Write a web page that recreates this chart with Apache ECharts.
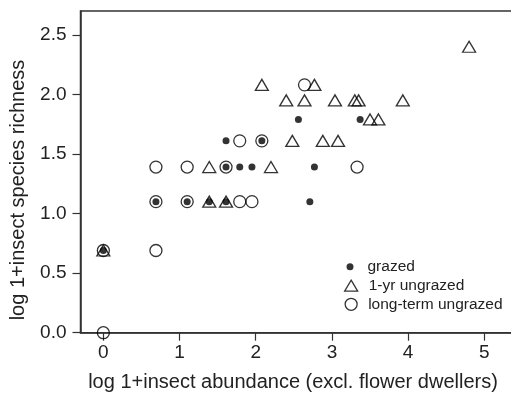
<!DOCTYPE html>
<html>
<head>
<meta charset="utf-8">
<script src="https://cdn.jsdelivr.net/npm/echarts@6/dist/echarts.min.js"></script>
<style>
  html, body { margin: 0; padding: 0; background: #fff; }
  #chart { width: 511px; height: 393px; }
</style>
</head>
<body>
<div id="chart"></div>
<script>
// Observations: [log 1+abundance, log 1+species richness]
const grazed = [
  [0.00, 0.69],
  [0.69, 1.10], [1.10, 1.10], [1.39, 1.10], [1.61, 1.10], [2.71, 1.10],
  [1.61, 1.39], [1.79, 1.39], [1.95, 1.39], [2.77, 1.39],
  [1.61, 1.61], [2.08, 1.61],
  [2.56, 1.79], [3.37, 1.79]
];
const oneYearUngrazed = [
  [0.00, 0.69],
  [1.39, 1.10], [1.61, 1.10],
  [1.39, 1.39], [2.20, 1.39],
  [2.48, 1.61], [2.88, 1.61], [3.08, 1.61],
  [3.50, 1.79], [3.61, 1.79],
  [2.40, 1.95], [2.64, 1.95], [3.04, 1.95], [3.30, 1.95], [3.35, 1.95], [3.93, 1.95],
  [2.08, 2.08], [2.77, 2.08],
  [4.80, 2.40]
];
const longTermUngrazed = [
  [0.00, 0.00], [0.00, 0.69], [0.69, 0.69],
  [0.69, 1.10], [1.10, 1.10], [1.79, 1.10], [1.95, 1.10],
  [0.69, 1.39], [1.10, 1.39], [1.61, 1.39], [3.33, 1.39],
  [1.79, 1.61], [2.08, 1.61],
  [2.64, 2.08]
];
const xTicks = [0, 1, 2, 3, 4, 5];
const yTicks = [0, 0.5, 1.0, 1.5, 2.0, 2.5];
const seriesNames = ['grazed', '1-yr ungrazed', 'long-term ungrazed'];
const xTitle = 'log 1+insect abundance (excl. flower dwellers)';
const yTitle = 'log 1+insect species richness';

const ink = '#000';
const axisInk = '#333';
const textInk = '#222';
const font = 'Liberation Sans, Arial, sans-serif';

const chart = echarts.init(document.getElementById('chart'), null, { renderer: 'canvas' });

const hollow = { color: 'rgba(0,0,0,0)', borderColor: ink, borderWidth: 1.3 };

chart.setOption({
  animation: false,
  backgroundColor: '#fff',
  // plot frame runs past the right edge of the canvas, so only three sides show
  grid: {
    left: 80.5, top: 11, width: 434.3, height: 321.7,
    outerBoundsMode: 'none', containLabel: false,
    show: true, borderColor: axisInk, borderWidth: 1.5, backgroundColor: 'rgba(0,0,0,0)'
  },
  xAxis: {
    type: 'value', min: -0.3, max: 5.4,
    splitLine: { show: false },
    axisLine: { onZero: false, lineStyle: { color: axisInk, width: 1.5 } },
    axisTick: { customValues: xTicks, length: 8, lineStyle: { color: axisInk, width: 1.2 } },
    axisLabel: { customValues: xTicks, margin: 11, fontSize: 19, fontFamily: font, color: textInk }
  },
  yAxis: {
    type: 'value', min: 0, max: 2.7,
    splitLine: { show: false },
    axisLine: { onZero: false, lineStyle: { color: axisInk, width: 1.5 } },
    axisTick: { customValues: yTicks, length: 8, lineStyle: { color: axisInk, width: 1.2 } },
    axisLabel: {
      customValues: yTicks, margin: 14, fontSize: 19, fontFamily: font, color: textInk,
      formatter: v => v.toFixed(1)
    }
  },
  legend: [
    {
      data: [seriesNames[0]], orient: 'vertical', left: 346.5, top: 258.7, padding: 0,
      itemWidth: 7, itemHeight: 7, icon: 'circle',
      itemStyle: { color: ink, borderWidth: 0 },
      textStyle: { fontSize: 15.5, fontFamily: font, color: textInk, lineHeight: 16, padding: [0, 0, 0, 9] }
    },
    {
      data: [seriesNames[1]], orient: 'vertical', left: 344, top: 277.7, padding: 0,
      itemWidth: 13, itemHeight: 11, icon: 'triangle',
      itemStyle: hollow,
      textStyle: { fontSize: 15.5, fontFamily: font, color: textInk, lineHeight: 16, padding: [0, 0, 0, 6] }
    },
    {
      data: [seriesNames[2]], orient: 'vertical', left: 344.5, top: 296.3, padding: 0,
      itemWidth: 12, itemHeight: 12, icon: 'circle',
      itemStyle: hollow,
      textStyle: { fontSize: 15.5, fontFamily: font, color: textInk, lineHeight: 16, padding: [0, 0, 0, 6] }
    }
  ],
  series: [
    {
      name: seriesNames[2], type: 'scatter', data: longTermUngrazed,
      symbol: 'circle', symbolSize: 12, itemStyle: hollow, z: 2
    },
    {
      name: seriesNames[1], type: 'scatter', data: oneYearUngrazed,
      symbol: 'triangle', symbolSize: [13, 11], itemStyle: hollow, z: 3
    },
    {
      name: seriesNames[0], type: 'scatter', data: grazed,
      symbol: 'circle', symbolSize: 7, itemStyle: { color: ink }, z: 4
    }
  ],
  graphic: [
    {
      type: 'text', x: 293, y: 382,
      style: { text: xTitle, fontSize: 20, fontFamily: font, fill: textInk, align: 'center', verticalAlign: 'middle' }
    },
    {
      type: 'text', x: 18, y: 190, rotation: Math.PI / 2,
      style: { text: yTitle, fontSize: 20, fontFamily: font, fill: textInk, align: 'center', verticalAlign: 'middle' }
    }
  ]
});
</script>
</body>
</html>
